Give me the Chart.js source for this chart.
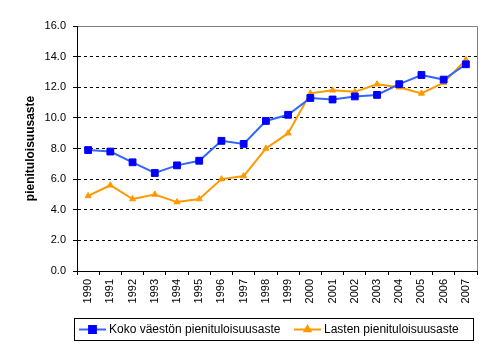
<!DOCTYPE html>
<html>
<head>
<meta charset="utf-8">
<script src="https://cdn.jsdelivr.net/npm/chart.js@4/dist/chart.umd.min.js"></script>
<style>
  body { margin: 0; background: #fff; }
  canvas { display: block; }
</style>
</head>
<body>
<canvas id="chart" width="492" height="347"></canvas>
<script>
const vuodet = ['1990', '1991', '1992', '1993', '1994', '1995', '1996', '1997', '1998',
  '1999', '2000', '2001', '2002', '2003', '2004', '2005', '2006', '2007'];
const kokoVaesto = [7.9, 7.8, 7.1, 6.4, 6.9, 7.2, 8.5, 8.3, 9.8, 10.2, 11.3, 11.2, 11.4, 11.5, 12.2, 12.8, 12.5, 13.5];
const lapset = [4.9, 5.6, 4.7, 5.0, 4.5, 4.7, 6.0, 6.2, 8.0, 9.0, 11.6, 11.8, 11.7, 12.2, 12.0, 11.6, 12.3, 13.8];
const sarjaNimet = ['Koko väestön pienituloisuusaste', 'Lasten pienituloisuusaste'];

const fontti = '"Liberation Sans", Arial, sans-serif';
Chart.defaults.font.family = fontti;
Chart.defaults.font.size = 11;
Chart.defaults.color = '#000';

// harmaa kehys kuva-alueen ylä- ja oikealle reunalle
const kehys = {
  id: 'kehys',
  beforeDatasetsDraw(chart) {
    const { ctx, chartArea: a } = chart;
    ctx.save();
    ctx.strokeStyle = '#808080';
    ctx.lineWidth = 1;
    ctx.setLineDash([]);
    ctx.beginPath();
    ctx.moveTo(a.left, a.top + 0.5);
    ctx.lineTo(a.right + 0.5, a.top + 0.5);
    ctx.lineTo(a.right + 0.5, a.bottom);
    ctx.stroke();
    // pystyakseli yhtenäisenä
    ctx.strokeStyle = '#000';
    ctx.beginPath();
    ctx.moveTo(a.left + 0.5, a.top);
    ctx.lineTo(a.left + 0.5, a.bottom);
    ctx.stroke();
    ctx.restore();
  }
};

// selite laatikossa kaavion alla
const selite = {
  id: 'selite',
  afterDraw(chart) {
    const ctx = chart.ctx;
    const x0 = 74, y0 = 318, x1 = 473, y1 = 340;
    const cy = (y0 + y1) / 2 + 0.5;
    ctx.save();
    ctx.setLineDash([]);
    ctx.strokeStyle = '#000';
    ctx.lineWidth = 1;
    ctx.strokeRect(x0 + 0.5, y0 + 0.5, x1 - x0, y1 - y0);
    const paikat = [{ viiva: 79, teksti: 109 }, { viiva: 294, teksti: 324 }];
    chart.data.datasets.forEach((ds, i) => {
      const p = paikat[i];
      ctx.strokeStyle = ds.borderColor;
      ctx.lineWidth = 2;
      ctx.beginPath();
      ctx.moveTo(p.viiva, cy);
      ctx.lineTo(p.viiva + 27, cy);
      ctx.stroke();
      ctx.fillStyle = ds.pointBackgroundColor;
      ctx.strokeStyle = ds.pointBorderColor;
      Chart.helpers.drawPoint(ctx, {
        pointStyle: ds.pointStyle,
        radius: ds.pointRadius,
        borderWidth: 1
      }, p.viiva + 13.5, cy);
      ctx.fillStyle = '#000';
      ctx.font = '12px ' + fontti;
      ctx.textBaseline = 'middle';
      ctx.textAlign = 'left';
      ctx.fillText(ds.label, p.teksti, cy);
    });
    ctx.restore();
  }
};

new Chart(document.getElementById('chart'), {
  type: 'line',
  data: {
    labels: vuodet,
    datasets: [{
      label: sarjaNimet[0],
      data: kokoVaesto,
      borderColor: '#3366FF',
      borderWidth: 2,
      backgroundColor: '#0000FF',
      pointStyle: 'rect',
      pointRadius: 4.8,
      pointBackgroundColor: '#0000FF',
      pointBorderColor: '#0000FF',
      pointBorderWidth: 1,
      tension: 0
    }, {
      label: sarjaNimet[1],
      data: lapset,
      borderColor: '#FF9900',
      borderWidth: 2,
      backgroundColor: '#FF9900',
      pointStyle: 'triangle',
      pointRadius: 3.5,
      pointBackgroundColor: '#FF9900',
      pointBorderColor: '#FF9900',
      pointBorderWidth: 1,
      tension: 0
    }]
  },
  options: {
    responsive: false,
    animation: false,
    layout: { padding: { left: 0, top: 26, right: 15, bottom: 0 } },
    plugins: {
      legend: { display: false },
      tooltip: { enabled: false }
    },
    scales: {
      x: {
        offset: true,
        afterFit: s => { s.height = 76; },
        border: { color: '#000', width: 1 },
        grid: {
          offset: true,
          drawOnChartArea: false,
          drawTicks: true,
          tickLength: 4,
          tickColor: '#000'
        },
        ticks: {
          autoSkip: false,
          minRotation: 90,
          maxRotation: 90,
          padding: 4,
          font: { size: 11 }
        }
      },
      y: {
        min: 0,
        max: 16,
        afterFit: s => { s.width = 77; },
        border: { color: '#000', width: 1, dash: [3, 3] },
        grid: {
          color: c => (c.tick.value === 0 || c.tick.value === 16) ? 'rgba(0,0,0,0)' : '#000',
          tickColor: '#000',
          tickLength: 4,
          tickBorderDash: [],
          lineWidth: 1
        },
        ticks: {
          stepSize: 2,
          padding: 7,
          font: { size: 11 },
          callback: v => v.toFixed(1)
        },
        title: {
          display: true,
          text: 'pienituloisuusaste',
          font: { size: 12, weight: 'bold' },
          padding: { top: 23, bottom: 0 }
        }
      }
    }
  },
  plugins: [kehys, selite]
});
</script>
</body>
</html>
